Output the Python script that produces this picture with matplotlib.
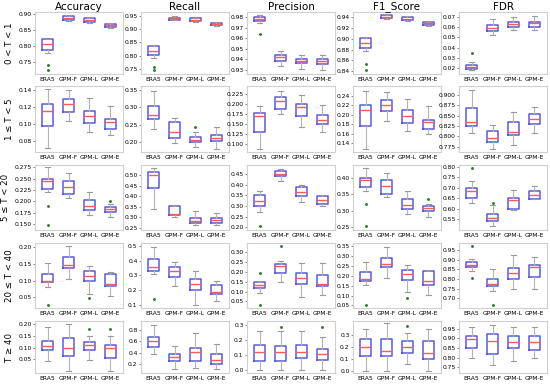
import matplotlib.pyplot as plt

products = ["ERA5", "GPM-F", "GPM-L", "GPM-E"]
ranges = ["0 < T < 1", "1 ≤ T < 5", "5 ≤ T < 20", "20 ≤ T < 40", "T ≥ 40"]
metrics = ["Accuracy", "Recall", "Precision", "F1_Score", "FDR"]

# each box: (low whisker, q1, median, q3, high whisker), one row per rain range
accuracy = [
    [(0.778, 0.788, 0.805, 0.821, 0.821), (0.879, 0.881, 0.888, 0.893, 0.896),
     (0.8715, 0.8755, 0.881, 0.887, 0.890), (0.858, 0.861, 0.8657, 0.8696, 0.8716)],
    [(0.0712, 0.0972, 0.116, 0.124, 0.141), (0.1032, 0.1148, 0.1236, 0.1292, 0.1404),
     (0.0908, 0.1016, 0.110, 0.116, 0.1304), (0.0868, 0.094, 0.102, 0.1056, 0.1216)],
    [(0.220, 0.228, 0.2454, 0.249, 0.275), (0.2078, 0.2172, 0.231, 0.2454, 0.262),
     (0.1702, 0.1803, 0.1905, 0.202, 0.220), (0.1666, 0.1767, 0.1832, 0.1876, 0.1934)],
    [(0.080, 0.096, 0.100, 0.121, 0.153), (0.105, 0.138, 0.146, 0.170, 0.205),
     (0.061, 0.098, 0.115, 0.128, 0.145), (0.055, 0.085, 0.090, 0.121, 0.126)],
    [(0.040, 0.090, 0.105, 0.130, 0.190), (0.000, 0.065, 0.100, 0.140, 0.200),
     (0.045, 0.090, 0.110, 0.125, 0.150), (0.000, 0.055, 0.100, 0.110, 0.150)],
]
accuracy_fliers = [
    [[0.740, 0.724], [], [], []],
    [[], [], [], []],
    [[0.1897, 0.1486], [], [], [0.2006]],
    [[0.028], [], [0.048], []],
    [[], [], [0.18], [0.18]],
]

recall = [
    [(0.792, 0.8035, 0.8175, 0.835, 0.841), (0.934, 0.937, 0.942, 0.945, 0.949),
     (0.929, 0.933, 0.937, 0.942, 0.944), (0.913, 0.915, 0.920, 0.9244, 0.927)],
    [(0.2387, 0.267, 0.2783, 0.3028, 0.347), (0.198, 0.2132, 0.2302, 0.2594, 0.2689),
     (0.1868, 0.200, 0.2057, 0.2151, 0.2311), (0.1811, 0.2038, 0.2123, 0.2198, 0.2434)],
    [(0.342, 0.440, 0.500, 0.516, 0.538), (0.300, 0.313, 0.318, 0.353, 0.360),
     (0.262, 0.2725, 0.285, 0.2967, 0.330), (0.265, 0.2757, 0.289, 0.2967, 0.321)],
    [(0.310, 0.330, 0.355, 0.410, 0.495), (0.230, 0.290, 0.330, 0.360, 0.390),
     (0.100, 0.200, 0.243, 0.275, 0.330), (0.128, 0.175, 0.190, 0.235, 0.262)],
    [(0.380, 0.500, 0.600, 0.680, 0.880), (0.120, 0.250, 0.320, 0.380, 0.520),
     (0.130, 0.250, 0.420, 0.480, 0.750), (0.120, 0.200, 0.280, 0.380, 0.550)],
]
recall_fliers = [
    [[0.756, 0.745], [], [], []],
    [[], [], [0.2434], []],
    [[], [], [], []],
    [[0.14], [], [], []],
    [[], [], [], []],
]

precision = [
    [(0.9743, 0.9764, 0.9785, 0.980, 0.982), (0.9333, 0.9384, 0.9417, 0.9439, 0.9478),
     (0.9304, 0.9363, 0.9384, 0.940, 0.9439), (0.9297, 0.9357, 0.9378, 0.940, 0.9439)],
    [(0.0886, 0.131, 0.169, 0.176, 0.195), (0.175, 0.1866, 0.207, 0.216, 0.2315),
     (0.1418, 0.1685, 0.1926, 0.1992, 0.2217), (0.131, 0.150, 0.1607, 0.172, 0.1964)],
    [(0.273, 0.300, 0.322, 0.350, 0.372), (0.415, 0.440, 0.450, 0.465, 0.475),
     (0.320, 0.345, 0.365, 0.390, 0.400), (0.300, 0.310, 0.330, 0.345, 0.350)],
    [(0.092, 0.117, 0.133, 0.150, 0.155), (0.150, 0.193, 0.228, 0.240, 0.255),
     (0.075, 0.138, 0.167, 0.193, 0.245), (0.083, 0.130, 0.138, 0.183, 0.245)],
    [(0.000, 0.060, 0.120, 0.170, 0.260), (0.000, 0.060, 0.120, 0.160, 0.260),
     (0.000, 0.080, 0.120, 0.170, 0.260), (0.000, 0.070, 0.110, 0.140, 0.220)],
]
precision_fliers = [
    [[0.9643], [], [], []],
    [[], [], [], []],
    [[0.205], [], [], []],
    [[0.195, 0.033], [0.33], [], []],
    [[], [0.29], [], [0.29]],
]

f1_score = [
    [(0.877, 0.8831, 0.892, 0.902, 0.903), (0.9365, 0.9377, 0.9405, 0.9435, 0.945),
     (0.932, 0.9336, 0.937, 0.940, 0.941), (0.924, 0.9258, 0.9282, 0.930, 0.932)],
    [(0.129, 0.1766, 0.2097, 0.2207, 0.2497), (0.1876, 0.2069, 0.220, 0.2303, 0.2483),
     (0.1655, 0.1828, 0.198, 0.2097, 0.2324), (0.1586, 0.1703, 0.1848, 0.1897, 0.2186)],
    [(0.360, 0.371, 0.392, 0.398, 0.430), (0.342, 0.350, 0.375, 0.393, 0.415),
     (0.289, 0.305, 0.317, 0.334, 0.360), (0.282, 0.299, 0.309, 0.314, 0.320)],
    [(0.152, 0.172, 0.185, 0.218, 0.271), (0.190, 0.246, 0.260, 0.293, 0.345),
     (0.116, 0.177, 0.210, 0.230, 0.255), (0.103, 0.155, 0.173, 0.227, 0.230)],
    [(0.000, 0.120, 0.200, 0.270, 0.350), (0.000, 0.120, 0.170, 0.270, 0.400),
     (0.060, 0.150, 0.200, 0.250, 0.320), (0.000, 0.100, 0.150, 0.250, 0.350)],
]
f1_score_fliers = [
    [[0.853, 0.8415], [], [], []],
    [[], [], [], []],
    [[0.319, 0.254], [], [], [0.334]],
    [[0.053], [], [0.09], []],
    [[], [], [0.38], []],
]

fdr = [
    [(0.0183, 0.0195, 0.0215, 0.0236, 0.0265), (0.0521, 0.0564, 0.059, 0.0621, 0.0674),
     (0.0566, 0.0603, 0.0627, 0.0645, 0.070), (0.0566, 0.0603, 0.0635, 0.0648, 0.0706)],
    [(0.807, 0.8258, 0.834, 0.869, 0.912), (0.769, 0.7862, 0.795, 0.8138, 0.827),
     (0.780, 0.8025, 0.8097, 0.834, 0.860), (0.807, 0.8298, 0.841, 0.854, 0.870)],
    [(0.628, 0.652, 0.684, 0.700, 0.734), (0.517, 0.540, 0.553, 0.572, 0.615),
     (0.592, 0.600, 0.643, 0.650, 0.690), (0.646, 0.646, 0.667, 0.683, 0.710)],
    [(0.843, 0.861, 0.875, 0.887, 0.906), (0.738, 0.761, 0.773, 0.801, 0.852),
     (0.749, 0.800, 0.831, 0.857, 0.924), (0.749, 0.810, 0.863, 0.871, 0.918)],
    [(0.800, 0.850, 0.895, 0.910, 0.960), (0.760, 0.820, 0.885, 0.920, 0.970),
     (0.780, 0.850, 0.880, 0.910, 0.960), (0.800, 0.840, 0.880, 0.910, 0.960)],
]
fdr_fliers = [
    [[0.0352], [], [], []],
    [[], [], [], []],
    [[0.795], [0.627], [], []],
    [[0.971, 0.805], [0.665], [], []],
    [[], [], [], []],
]

# axis limits and tick labels, [row][metric]
y_limits = [
    [(0.712, 0.907), (0.73, 0.966), (0.9258, 0.985), (0.835, 0.949), (0.0145, 0.0745)],
    [(0.067, 0.145), (0.1726, 0.361), (0.0805, 0.244), (0.122, 0.26), (0.762, 0.922)],
    [(0.137, 0.28), (0.24, 0.55), (0.1875, 0.492), (0.242, 0.438), (0.498, 0.808)],
    [(0.018, 0.213), (0.078, 0.52), (0.017, 0.345), (0.037, 0.367), (0.648, 0.989)],
    [(-0.01, 0.215), (0.05, 0.95), (-0.02, 0.33), (-0.02, 0.42), (0.72, 0.99)],
]
y_ticks = [
    [[0.75, 0.80, 0.85, 0.90], [0.75, 0.80, 0.85, 0.90, 0.95],
     [0.93, 0.94, 0.95, 0.96, 0.97, 0.98], [0.84, 0.86, 0.88, 0.90, 0.92, 0.94],
     [0.02, 0.03, 0.04, 0.05, 0.06, 0.07]],
    [[0.08, 0.10, 0.12, 0.14], [0.20, 0.25, 0.30, 0.35],
     [0.100, 0.125, 0.150, 0.175, 0.200, 0.225], [0.14, 0.16, 0.18, 0.20, 0.22, 0.24],
     [0.775, 0.800, 0.825, 0.850, 0.875, 0.900]],
    [[0.150, 0.175, 0.200, 0.225, 0.250, 0.275], [0.25, 0.30, 0.35, 0.40, 0.45, 0.50],
     [0.20, 0.25, 0.30, 0.35, 0.40, 0.45], [0.25, 0.30, 0.35, 0.40],
     [0.55, 0.60, 0.65, 0.70, 0.75, 0.80]],
    [[0.05, 0.10, 0.15, 0.20], [0.1, 0.2, 0.3, 0.4, 0.5],
     [0.05, 0.10, 0.15, 0.20, 0.25, 0.30], [0.05, 0.10, 0.15, 0.20, 0.25, 0.30, 0.35],
     [0.70, 0.75, 0.80, 0.85, 0.90, 0.95]],
    [[0.05, 0.10, 0.15, 0.20], [0.2, 0.4, 0.6, 0.8],
     [0.0, 0.1, 0.2, 0.3], [0.0, 0.1, 0.2, 0.3],
     [0.75, 0.80, 0.85, 0.90, 0.95]],
]
tick_formats = [
    ["%.2f", "%.2f", "%.2f", "%.2f", "%.2f"],
    ["%.2f", "%.2f", "%.3f", "%.2f", "%.3f"],
    ["%.3f", "%.2f", "%.2f", "%.2f", "%.2f"],
    ["%.2f", "%.1f", "%.2f", "%.2f", "%.2f"],
    ["%.2f", "%.1f", "%.1f", "%.1f", "%.2f"],
]

all_stats = [accuracy, recall, precision, f1_score, fdr]
all_fliers = [accuracy_fliers, recall_fliers, precision_fliers, f1_score_fliers, fdr_fliers]

# panel placement in pixels
W, H = 550, 392
col_left = [35, 141, 247, 353, 459]
col_width = 88
row_span = [(12, 74), (86, 152), (165, 230), (243, 308), (321, 373)]

fig = plt.figure(figsize=(5.5, 3.92), dpi=100)

for r in range(5):
    top, bottom = row_span[r]
    for c in range(5):
        ax = fig.add_axes([col_left[c] / W, 1 - bottom / H, col_width / W, (bottom - top) / H])
        stats = []
        for k in range(4):
            lo, q1, med, q3, hi = all_stats[c][r][k]
            stats.append(dict(whislo=lo, q1=q1, med=med, q3=q3, whishi=hi,
                              fliers=all_fliers[c][r][k]))
        ax.bxp(stats, positions=[1, 2, 3, 4], widths=0.5,
               boxprops=dict(color="#5b5bd6", lw=1.1),
               medianprops=dict(color="#ff5a5a", lw=1.0),
               whiskerprops=dict(color="#b5b5b5", lw=0.8),
               capprops=dict(color="#9a9a9a", lw=0.8),
               flierprops=dict(marker=".", markersize=2.2, markerfacecolor="#2e7d32",
                               markeredgecolor="#2e7d32"))
        ax.set_xlim(0.4, 4.6)
        ax.set_ylim(*y_limits[r][c])
        ax.set_yticks(y_ticks[r][c])
        ax.set_yticklabels([tick_formats[r][c] % t for t in y_ticks[r][c]])
        ax.set_xticks([1, 2, 3, 4])
        ax.set_xticklabels(products)
        ax.tick_params(axis="y", labelsize=4.3, length=1.5, width=0.5, pad=1,
                       color="#555555")
        ax.tick_params(axis="x", labelsize=4.3, length=0, pad=2)
        for s in ax.spines.values():
            s.set_color("#d0d0d0")
            s.set_linewidth(0.8)
        if r == 0:
            ax.set_title(metrics[c], fontsize=7.5, pad=1)
        if c == 0:
            ax.set_ylabel(ranges[r], fontsize=6.2, labelpad=3)

fig.savefig("out.png", dpi=100)
